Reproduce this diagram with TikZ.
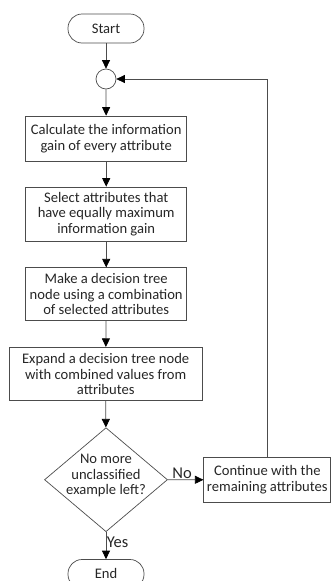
\documentclass[tikz,border=0pt]{standalone}
\usepackage{fontspec}
\setmainfont{Carlito}
\usetikzlibrary{shapes.geometric,arrows.meta}
\begin{document}
\begin{tikzpicture}[x=1pt,y=-1pt,
  every node/.style={font=\fontsize{14.6}{15.6}\selectfont, text=black!85},
  lbl/.style={font=\fontsize{16.5}{18}\selectfont, text=black!85},
  line/.style={draw=black!70, line width=0.7pt},
  arr/.style={line, -{Triangle[length=8.5pt,width=8pt,fill=black,color=black]}},
  procbox/.style={line, rectangle, align=center, inner sep=0pt},
  term/.style={line, rectangle, rounded corners=14pt, minimum width=76pt, minimum height=29pt, inner sep=0pt},
  dec/.style={line, diamond, minimum width=123pt, minimum height=104pt, inner sep=0pt}]
\clip (0,0) rectangle (332,581);
\node[term] (start) at (106,28.5) {Start};
\node[line, circle, minimum size=20pt, inner sep=0pt] (circ) at (106,79) {};
\node[procbox, minimum width=161pt, minimum height=45pt] (b1) at (106.2,138.5) {Calculate the information\\gain of every attribute};
\node[procbox, minimum width=161pt, minimum height=54pt] (b2) at (106.2,214) {Select attributes that\\have equally maximum\\information gain};
\node[procbox, minimum width=161pt, minimum height=52.5pt] (b3) at (106.2,294) {Make a decision tree\\node using a combination\\of selected attributes};
\node[procbox, minimum width=193pt, minimum height=53.5pt] (b4) at (105.7,374) {Expand a decision tree node\\with combined values from\\attributes};
\node[dec] (dia) at (106,479.7) {\makebox[0pt]{\smash{\begin{tabular}{@{}c@{}}No more\\unclassified\\example left?\end{tabular}}}};
\node[procbox, minimum width=127pt, minimum height=45pt] (cont) at (267.3,479.8) {Continue with the\\remaining attributes};
\node[term] (end) at (106,574) {\raisebox{0.8pt}{End}};
\draw[arr] (start) -- (circ);
\draw[arr] (circ) -- (b1);
\draw[arr] (b1) -- (b2);
\draw[arr] (b2) -- (b3);
\draw[arr] (b3) -- (b4);
\draw[arr] (b4) -- (dia);
\draw[arr] (dia.east) -- node[lbl, above, pos=0.4, inner sep=0.5pt] {No} (cont.west);
\draw[arr] (dia.south) -- node[lbl, right, pos=0.38, inner sep=0.5pt] {Yes} (end.north);
\draw[arr] (cont.north) -- (cont.north |- circ) -- (circ.east);
\end{tikzpicture}
\end{document}
